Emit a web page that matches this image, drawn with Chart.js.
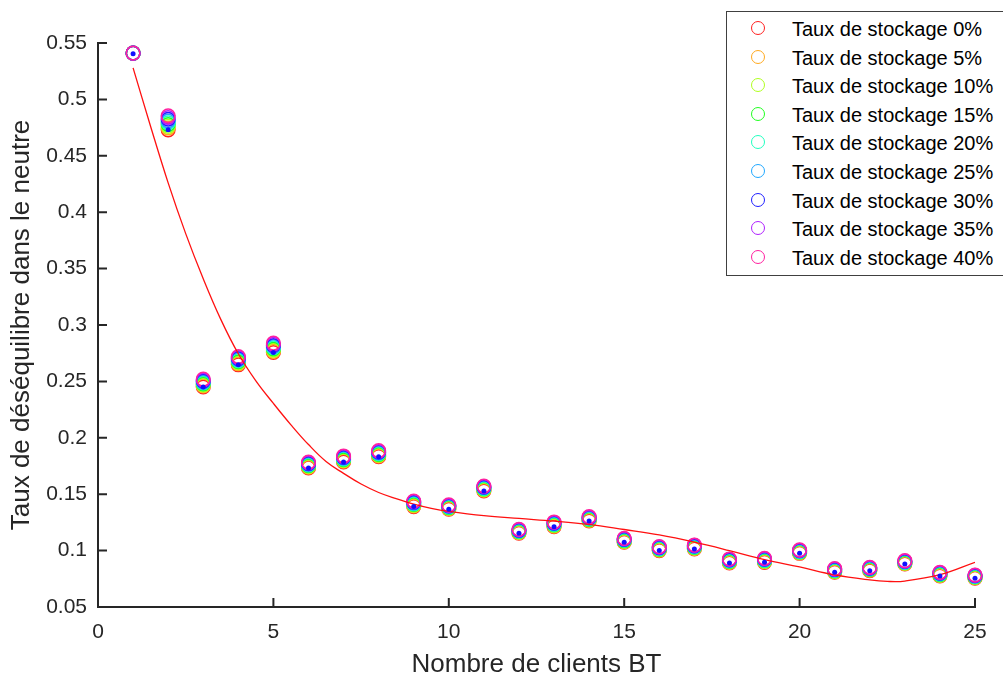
<!DOCTYPE html>
<html>
<head>
<meta charset="utf-8">
<script src="https://cdn.jsdelivr.net/npm/chart.js@4/dist/chart.umd.min.js"></script>
<style>
  body { margin: 0; background: #fff; }
  #wrap { position: relative; width: 1003px; height: 680px; }
  #legende {
    position: absolute; left: 726px; top: 11px; width: 290px; height: 263px;
    border: 1px solid #404040; background: #fff;
    font-family: "Liberation Sans", Arial, sans-serif; font-size: 20px; color: #000;
  }
  .ligne { position: absolute; left: 0; height: 28px; line-height: 28px; white-space: nowrap; }
  .rond {
    position: absolute; left: 24px; top: 6px; width: 12px; height: 12px;
    border-radius: 50%; border: 1.5px solid #f00;
  }
  .txt { position: absolute; left: 65px; top: 0; }
</style>
</head>
<body>
<div id="wrap">
  <canvas id="chartDesequilibre"></canvas>
  <div id="legende"></div>
</div>

<script>
  // Nombre de clients BT
  const xClients = [1, 2, 3, 4, 5, 6, 7, 8, 9, 10, 11, 12, 13, 14, 15, 16, 17, 18, 19, 20, 21, 22, 23, 24, 25];

  // Taux de déséquilibre pour chaque taux de stockage
  const stock0 = [0.541, 0.4730, 0.2451, 0.2647, 0.2756, 0.1733, 0.1786, 0.1833, 0.1390, 0.1367, 0.1529, 0.1154, 0.1212, 0.1263, 0.1074, 0.1000, 0.1014, 0.0890, 0.0896, 0.0976, 0.0808, 0.0822, 0.0881, 0.0775, 0.0755];
  const stock5 = [0.541, 0.4746, 0.2460, 0.2656, 0.2766, 0.1739, 0.1793, 0.1840, 0.1396, 0.1372, 0.1535, 0.1158, 0.1217, 0.1268, 0.1078, 0.1004, 0.1019, 0.0895, 0.0901, 0.0980, 0.0812, 0.0826, 0.0885, 0.0779, 0.0759];
  const stock10 = [0.541, 0.4761, 0.2468, 0.2665, 0.2777, 0.1746, 0.1799, 0.1846, 0.1403, 0.1377, 0.1540, 0.1163, 0.1223, 0.1273, 0.1083, 0.1009, 0.1023, 0.0899, 0.0905, 0.0984, 0.0816, 0.0830, 0.0889, 0.0783, 0.0762];
  const stock15 = [0.541, 0.4777, 0.2477, 0.2674, 0.2787, 0.1752, 0.1806, 0.1853, 0.1409, 0.1381, 0.1546, 0.1167, 0.1228, 0.1277, 0.1087, 0.1013, 0.1028, 0.0904, 0.0910, 0.0987, 0.0820, 0.0833, 0.0892, 0.0787, 0.0766];
  const stock20 = [0.541, 0.4793, 0.2486, 0.2684, 0.2798, 0.1759, 0.1813, 0.1860, 0.1415, 0.1386, 0.1551, 0.1172, 0.1233, 0.1282, 0.1092, 0.1018, 0.1032, 0.0908, 0.0914, 0.0991, 0.0824, 0.0837, 0.0896, 0.0792, 0.0770];
  const stock25 = [0.541, 0.4808, 0.2494, 0.2693, 0.2808, 0.1765, 0.1819, 0.1866, 0.1421, 0.1391, 0.1557, 0.1176, 0.1238, 0.1287, 0.1096, 0.1022, 0.1037, 0.0913, 0.0919, 0.0995, 0.0828, 0.0841, 0.0900, 0.0796, 0.0773];
  const stock30 = [0.541, 0.4824, 0.2503, 0.2702, 0.2818, 0.1771, 0.1826, 0.1873, 0.1428, 0.1396, 0.1562, 0.1180, 0.1244, 0.1292, 0.1100, 0.1026, 0.1041, 0.0917, 0.0923, 0.0999, 0.0832, 0.0845, 0.0904, 0.0800, 0.0777];
  const stock35 = [0.541, 0.4839, 0.2511, 0.2711, 0.2829, 0.1778, 0.1832, 0.1879, 0.1434, 0.1400, 0.1568, 0.1185, 0.1249, 0.1296, 0.1105, 0.1031, 0.1046, 0.0922, 0.0928, 0.1002, 0.0836, 0.0848, 0.0907, 0.0804, 0.0780];
  const stock40 = [0.541, 0.4855, 0.2520, 0.2720, 0.2839, 0.1784, 0.1839, 0.1886, 0.1440, 0.1405, 0.1573, 0.1189, 0.1254, 0.1301, 0.1109, 0.1035, 0.1050, 0.0926, 0.0932, 0.1006, 0.0840, 0.0852, 0.0911, 0.0808, 0.0784];

  // points bleus (valeurs de référence)
  const pointsBleus = [0.5405, 0.4731, 0.2451, 0.2647, 0.2756, 0.1733, 0.1786, 0.1833, 0.1390, 0.1367, 0.1529, 0.1154, 0.1212, 0.1263, 0.1074, 0.1000, 0.1014, 0.0890, 0.0896, 0.0976, 0.0808, 0.0822, 0.0881, 0.0775, 0.0755];

  // courbe d'ajustement
  const fitX = [1, 1.5, 2, 2.5, 3, 3.5, 4, 4.5, 5, 5.5, 6, 6.5, 7, 7.5, 8, 8.5, 9, 9.5, 10, 11, 12, 13, 14, 15, 16, 17, 18, 19, 20, 21, 22, 22.5, 23, 24, 25];
  const fitY = [0.528, 0.476, 0.426, 0.381, 0.341, 0.305, 0.2745, 0.2505, 0.2305, 0.2115, 0.194, 0.179, 0.1685, 0.159, 0.1515, 0.146, 0.1412, 0.1375, 0.1348, 0.131, 0.1285, 0.1262, 0.1232, 0.1187, 0.1139, 0.1075, 0.100, 0.092, 0.0855, 0.0785, 0.0740, 0.0727, 0.0730, 0.0786, 0.0896];

  const xTicks = [0, 5, 10, 15, 20, 25];
  const yTicks = [0.05, 0.1, 0.15, 0.2, 0.25, 0.3, 0.35, 0.4, 0.45, 0.5, 0.55];

  const labels = ["Taux de stockage 0%", "Taux de stockage 5%", "Taux de stockage 10%", "Taux de stockage 15%", "Taux de stockage 20%", "Taux de stockage 25%", "Taux de stockage 30%", "Taux de stockage 35%", "Taux de stockage 40%"];
  const series = [stock0, stock5, stock10, stock15, stock20, stock25, stock30, stock35, stock40];
  const couleurs = ["#ff2020", "#ffaa20", "#b0ff20", "#20ff20", "#20ffc0", "#20a8ff", "#2020ff", "#b020ff", "#ff20a0"];

  const police = '"Liberation Sans", Arial, sans-serif';
  const gris = "#262626";

  const datasets = [];
  // points bleus au dessus
  datasets.push({
    label: "points",
    data: xClients.map((x, i) => ({ x: x, y: pointsBleus[i] })),
    pointRadius: 2.5,
    pointBackgroundColor: "#1010ff",
    pointBorderWidth: 0,
    showLine: false,
    clip: false,
    order: 0,
  });
  datasets.push({
    label: "ajustement",
    data: fitX.map((x, i) => ({ x: x, y: fitY[i] })),
    showLine: true,
    borderColor: "#ff1010",
    borderWidth: 1.3,
    pointRadius: 0,
    tension: 0.4,
    order: 1,
  });
  series.forEach((s, k) => {
    datasets.push({
      label: labels[k],
      data: xClients.map((x, i) => ({ x: x, y: s[i] })),
      showLine: false,
      pointRadius: 6.8,
      pointBorderWidth: 1.5,
      pointBorderColor: couleurs[k],
      pointBackgroundColor: "rgba(0,0,0,0)",
      clip: false,
      order: 10 - k,
    });
  });

  // graduations vers l'intérieur (style MATLAB)
  const ticksInterieurs = {
    id: "ticksInterieurs",
    afterDraw(chart) {
      const ctx = chart.ctx;
      const xs = chart.scales.x, ys = chart.scales.y;
      const area = chart.chartArea;
      ctx.save();
      ctx.strokeStyle = gris;
      ctx.lineWidth = 2;
      ctx.beginPath();
      xTicks.forEach((v) => {
        const px = xs.getPixelForValue(v);
        ctx.moveTo(px, area.bottom);
        ctx.lineTo(px, area.bottom - 9);
      });
      yTicks.forEach((v) => {
        const py = ys.getPixelForValue(v);
        ctx.moveTo(area.left, py);
        ctx.lineTo(area.left + 9, py);
      });
      ctx.stroke();
      ctx.restore();
    },
  };

  const ctx = document.getElementById("chartDesequilibre").getContext("2d");
  new Chart(ctx, {
    type: "scatter",
    data: { datasets: datasets },
    options: {
      responsive: true,
      maintainAspectRatio: false,
      animation: false,
      layout: { padding: { left: 0, top: 43, right: 28, bottom: 0 } },
      plugins: { legend: { display: false }, tooltip: { enabled: false } },
      scales: {
        x: {
          type: "linear",
          min: 0,
          max: 25,
          afterBuildTicks: (scale) => { scale.ticks = xTicks.map((v) => ({ value: v })); },
          afterFit: (scale) => { scale.height = 73; },
          grid: { display: false, drawTicks: false },
          border: { display: true, color: gris, width: 2 },
          ticks: { color: gris, font: { family: police, size: 21 }, padding: 13, maxRotation: 0 },
          title: { display: true, text: "Nombre de clients BT", color: gris, font: { family: police, size: 26 }, padding: { top: 0, bottom: 0 } },
        },
        y: {
          type: "linear",
          min: 0.05,
          max: 0.55,
          afterBuildTicks: (scale) => { scale.ticks = yTicks.map((v) => ({ value: v })); },
          afterFit: (scale) => { scale.width = 98; },
          grid: { display: false, drawTicks: false },
          border: { display: true, color: gris, width: 2 },
          ticks: {
            color: gris,
            font: { family: police, size: 21 },
            padding: 11,
            callback: (v) => parseFloat(Number(v).toFixed(2)).toString(),
          },
          title: { display: true, text: "Taux de déséquilibre dans le neutre", color: gris, font: { family: police, size: 26 }, padding: { top: 6, bottom: 0 } },
        },
      },
    },
    plugins: [ticksInterieurs],
  });

  // légende HTML
  const legende = document.getElementById("legende");
  labels.forEach((lab, k) => {
    const ligne = document.createElement("div");
    ligne.className = "ligne";
    ligne.style.top = (3 + k * 28.6) + "px";
    const rond = document.createElement("span");
    rond.className = "rond";
    rond.style.borderColor = couleurs[k];
    const txt = document.createElement("span");
    txt.className = "txt";
    txt.textContent = lab;
    ligne.appendChild(rond);
    ligne.appendChild(txt);
    legende.appendChild(ligne);
  });
</script>
</body>
</html>
